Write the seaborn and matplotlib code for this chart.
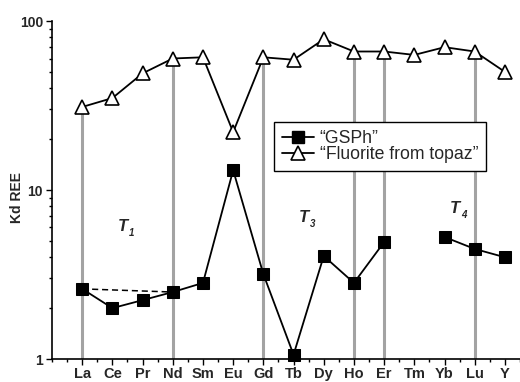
import numpy as np
import pandas as pd
import matplotlib
matplotlib.use("Agg")
import matplotlib.pyplot as plt
from matplotlib.lines import Line2D
from matplotlib.ticker import FixedLocator, FixedFormatter, LogLocator, NullFormatter
import seaborn as sns

# REE partition coefficients
elements = ["La", "Ce", "Pr", "Nd", "Sm", "Eu", "Gd", "Tb", "Dy", "Ho", "Er", "Tm", "Yb", "Lu", "Y"]
gsph = [2.6, 2.0, 2.23, 2.49, 2.82, 13.1, 3.18, 1.06, 4.07, 2.82, 4.92, np.nan, 5.27, 4.48, 4.0]
fluorite = [31, 35, 49, 60, 61, 22, 61, 59, 78, 66, 66, 63, 70, 66, 50]
stem_elements = ["La", "Nd", "Gd", "Ho", "Er", "Lu"]
series_labels = ["\u201cGSPh\u201d", "\u201cFluorite from topaz\u201d"]
group_labels = [("1", "Ce", 6.1), ("3", "Tb", 6.9), ("4", "Yb", 7.8)]

sns.set_style("ticks")
plt.rcParams["font.family"] = ["Liberation Sans", "DejaVu Sans"]

df = pd.DataFrame({"element": elements, "pos": np.arange(len(elements)),
                   "gsph": gsph, "fluorite": fluorite})

fig = plt.figure(figsize=(5.2, 3.82), dpi=100)
ax = fig.add_axes([0.1, 0.0602, 0.9, 0.8848])

# grey guide lines from the axis up to the fluorite values
stems = df[df["element"].isin(stem_elements)]
ax.vlines(stems["pos"], 1, stems["fluorite"], color="#a3a3a3", lw=2.2, zorder=1)

# fluorite series
sns.lineplot(data=df, x="pos", y="fluorite", ax=ax, color="black", lw=1.3,
             marker="^", markersize=10, markerfacecolor="white",
             markeredgecolor="black", markeredgewidth=1.2, zorder=3, clip_on=False)

# GSPh series, broken where Tm is missing
seg1 = df.iloc[:11]
seg2 = df.iloc[12:]
for seg in (seg1, seg2):
    sns.lineplot(data=seg, x="pos", y="gsph", ax=ax, color="black", lw=1.3,
                 marker="s", markersize=8, markerfacecolor="black",
                 markeredgecolor="black", zorder=4, clip_on=False)

# dashed La-Nd reference line
pair = df[df["element"].isin(["La", "Nd"])]
ax.plot(pair["pos"], pair["gsph"], color="black", lw=1.1, ls=(0, (4, 2.5)), zorder=2)

ax.set_yscale("log")
ax.set_ylim(1, 100)
ax.set_xlim(-1, 14.26)

ax.yaxis.set_major_locator(FixedLocator([1, 10, 100]))
ax.yaxis.set_major_formatter(FixedFormatter(["1", "10", "100"]))
ax.yaxis.set_minor_locator(LogLocator(base=10, subs=np.arange(2, 10)))
ax.yaxis.set_minor_formatter(NullFormatter())

ax.set_xticks(df["pos"])
ax.set_xticklabels(elements)
ax.set_xticks(np.arange(-1, 14.6, 0.5), minor=True)

for lab in ax.get_xticklabels():
    lab.set_fontweight("bold")
    lab.set_fontsize(10.5)
for lab in ax.get_yticklabels():
    lab.set_fontweight("bold")
    lab.set_fontsize(10)

ax.tick_params(axis="both", which="major", direction="out", length=4.5, width=1,
               color="black")
ax.tick_params(axis="x", which="major", pad=1.5)
ax.tick_params(axis="y", which="major", pad=2)
ax.tick_params(axis="both", which="minor", direction="out", length=2.5, width=1,
               color="black")

ax.set_xlabel("")
ax.set_ylabel("Kd REE", fontsize=10, fontweight="bold")
ax.yaxis.label.set_verticalalignment("center")
ax.yaxis.set_label_coords(-0.075, 0.479)
for side in ("top", "right"):
    ax.spines[side].set_visible(False)
for side in ("left", "bottom"):
    ax.spines[side].set_linewidth(1.2)
    ax.spines[side].set_color("black")

# group labels T1, T3, T4
for sub, el, yv in group_labels:
    xv = elements.index(el) + 0.34
    ax.text(xv, yv, "T", fontsize=12, fontweight="bold", fontstyle="italic",
            ha="center", va="center", zorder=5)
    ax.annotate(sub, (xv, yv), xytext=(6.5, -5), textcoords="offset points",
                fontsize=7, fontweight="bold", fontstyle="italic",
                ha="center", va="center")

handles = [
    Line2D([], [], color="black", lw=1.3, marker="s", markersize=8,
           markerfacecolor="black", markeredgecolor="black"),
    Line2D([], [], color="black", lw=1.3, marker="^", markersize=10,
           markerfacecolor="white", markeredgecolor="black", markeredgewidth=1.2),
]
leg = ax.legend(handles, series_labels, loc="upper left", bbox_to_anchor=(0.474, 0.701),
                borderaxespad=0, fontsize=12.7, frameon=True, fancybox=False,
                edgecolor="black", framealpha=1, handlelength=1.8, handletextpad=0.35,
                labelspacing=-0.05, borderpad=0.45)
leg.get_frame().set_linewidth(1.0)
leg.set_zorder(6)

fig.savefig("out.png", dpi=100)
